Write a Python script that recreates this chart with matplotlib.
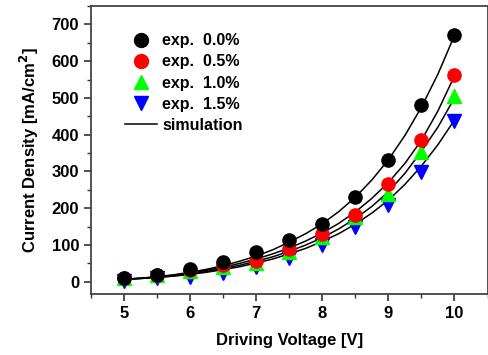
import matplotlib
matplotlib.use("Agg")
import matplotlib.pyplot as plt
from matplotlib.ticker import MultipleLocator

plt.rcParams['font.family'] = ['Liberation Sans', 'DejaVu Sans']
plt.rcParams['font.weight'] = 'bold'
plt.rcParams['mathtext.default'] = 'bf'

# measured points
voltage = [5.0, 5.5, 6.0, 6.5, 7.0, 7.5, 8.0, 8.5, 9.0, 9.5, 10.0]
exp_00 = [10, 18, 35, 54, 82, 113, 157, 231, 331, 480, 670]
exp_05 = [11, 18, 33, 45, 56, 88, 129, 181, 267, 387, 562]
exp_10 = [11, 18, 30, 41, 50, 82, 121, 175, 238, 353, 505]
exp_15 = [3, 9, 14, 23, 41, 66, 100, 150, 208, 299, 437]

# simulation curves
sim_v = [5.0, 5.25, 5.5, 5.75, 6.0, 6.25, 6.5, 6.75, 7.0, 7.25, 7.5,
         7.75, 8.0, 8.25, 8.5, 8.75, 9.0, 9.25, 9.5, 9.75, 10.0]
sim_00 = [7, 10, 14, 19, 26, 34, 44, 56, 70, 87, 108,
          131, 158, 191, 230, 277, 332, 398, 475, 565, 670]
sim_05 = [7, 9.5, 13, 18, 24, 31, 40, 50, 62, 76, 92,
          111, 133, 159, 190, 227, 270, 322, 385, 465, 560]
sim_10 = [7, 9, 12, 16, 22, 28, 36, 45, 56, 68, 83,
          100, 120, 144, 172, 205, 245, 295, 355, 421, 500]
sim_15 = [7, 9, 12, 15.5, 20, 26, 33, 41, 51, 62, 76,
          91, 110, 131, 157, 187, 222, 265, 315, 373, 440]

fig = plt.figure(figsize=(4.89, 3.55), dpi=100)
ax = fig.add_axes([0.186, 0.172, 0.811, 0.811])

for sim in [sim_00, sim_05, sim_10, sim_15]:
    ax.plot(sim_v, sim, color='black', lw=1.1, zorder=1)

ax.plot(voltage, exp_15, 'v', color='#0000ff', ms=9.5, ls='none', zorder=2)
ax.plot(voltage, exp_10, '^', color='#00ff00', ms=9.5, ls='none', zorder=3)
ax.plot(voltage, exp_05, 'o', color='#ff0000', ms=9.5, ls='none', zorder=4)
ax.plot(voltage, exp_00, 'o', color='black', ms=9.5, ls='none', zorder=5)

# legend handles
h0, = ax.plot([], [], 'o', color='black', ms=10)
h1, = ax.plot([], [], 'o', color='#ff0000', ms=10)
h2, = ax.plot([], [], '^', color='#00ff00', ms=10)
h3, = ax.plot([], [], 'v', color='#0000ff', ms=10)
h4, = ax.plot([], [], '-', color='black', lw=1.1)
ax.legend([h0, h1, h2, h3, h4],
          ['exp.  0.0%', 'exp.  0.5%', 'exp.  1.0%', 'exp.  1.5%', 'simulation'],
          loc='upper left', bbox_to_anchor=(0.086, 0.905), frameon=False,
          fontsize=11.5, handlelength=2.0, handletextpad=0.33,
          labelspacing=0.38, borderaxespad=0, borderpad=0)

ax.set_xlim(4.5, 10.5)
ax.set_ylim(-33, 750)
ax.xaxis.set_major_locator(MultipleLocator(1))
ax.xaxis.set_minor_locator(MultipleLocator(0.5))
ax.yaxis.set_major_locator(MultipleLocator(100))
ax.yaxis.set_minor_locator(MultipleLocator(50))
ax.tick_params(which='major', direction='out', length=5, width=1.2,
               labelsize=12, color='#333333')
ax.tick_params(which='minor', direction='out', length=3, width=1.0,
               color='#333333')
for s in ax.spines.values():
    s.set_linewidth(1.3)
    s.set_color('#444444')

ax.set_xlabel('Driving Voltage [V]', fontsize=12, fontweight='bold', labelpad=9)
ax.set_ylabel(r'Current Density [mA/cm$^{2}$]', fontsize=12,
              fontweight='bold', labelpad=8)

fig.savefig('out.png', dpi=100)
